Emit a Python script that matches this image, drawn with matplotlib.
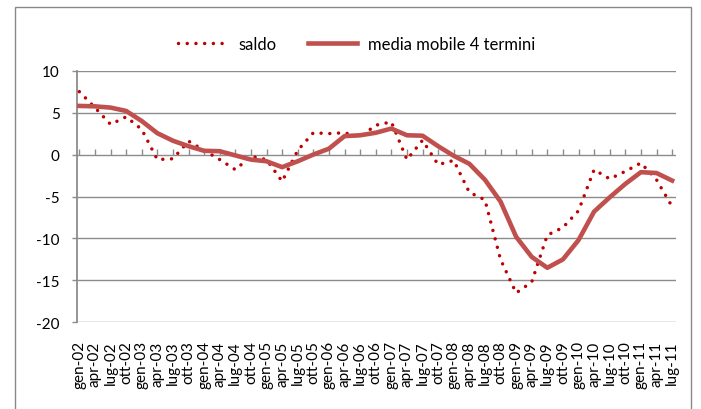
import numpy as np
import matplotlib
matplotlib.use("Agg")
import matplotlib.pyplot as plt
from matplotlib.patches import Rectangle

plt.rcParams['font.family'] = ['Lato', 'DejaVu Sans']
plt.rcParams['axes.unicode_minus'] = False

# trimestri gen-02 ... lug-11
periodi = ["gen-02", "apr-02", "lug-02", "ott-02",
           "gen-03", "apr-03", "lug-03", "ott-03",
           "gen-04", "apr-04", "lug-04", "ott-04",
           "gen-05", "apr-05", "lug-05", "ott-05",
           "gen-06", "apr-06", "lug-06", "ott-06",
           "gen-07", "apr-07", "lug-07", "ott-07",
           "gen-08", "apr-08", "lug-08", "ott-08",
           "gen-09", "apr-09", "lug-09", "ott-09",
           "gen-10", "apr-10", "lug-10", "ott-10",
           "gen-11", "apr-11", "lug-11"]

saldo = [7.5, 5.6, 3.6, 4.5, 3.0, -0.6, -0.5, 1.6,
         0.5, -0.6, -1.8, -0.2, -0.6, -3.2, 0.5, 2.6,
         2.5, 2.6, 2.1, 3.5, 3.9, -0.6, 1.7, -1.2,
         -0.7, -4.5, -5.4, -12.5, -16.5, -15.2, -9.6, -8.7,
         -6.7, -1.8, -2.9, -2.0, -1.0, -3.0, -6.2]

media_mobile = [5.8, 5.75, 5.6, 5.2, 4.0, 2.55, 1.65, 1.0,
                0.45, 0.4, -0.1, -0.6, -0.8, -1.5, -0.8, 0.0,
                0.7, 2.2, 2.3, 2.6, 3.1, 2.3, 2.25, 1.0,
                -0.15, -1.1, -3.0, -5.6, -9.8, -12.2, -13.5, -12.5,
                -10.2, -6.8, -5.1, -3.5, -2.1, -2.2, -3.1]

y_ticks = [-20, -15, -10, -5, 0, 5, 10]

grigio = '#8c8c8c'
W, H = 701, 410
fig = plt.figure(figsize=(W / 100, H / 100), dpi=100)
ax = fig.add_axes([77 / W, 1 - 323.3 / H, (676 - 77) / W, (323.3 - 71.7) / H])

x = np.arange(len(periodi))

l1, = ax.plot(x, saldo, color='#C00000', linewidth=2.5,
              dashes=(0.01, 2.5), dash_capstyle='round', label='saldo', zorder=3)
l2, = ax.plot(x, media_mobile, color='#C0504D', linewidth=3.3,
              solid_joinstyle='round', label='media mobile 4 termini', zorder=4)

ax.set_xlim(-0.15, len(periodi) - 1 + 0.25)
ax.set_ylim(-20, 10)
ax.set_yticks(y_ticks)
ax.yaxis.grid(True, color=grigio, linewidth=1.0)
ax.set_axisbelow(True)

ax.set_xticks(x)
ax.set_xticklabels(periodi, rotation=90, fontsize=11)
ax.tick_params(axis='x', length=0, pad=13)
ax.tick_params(axis='y', length=3.6, width=1.0, color=grigio, pad=9, labelsize=11)

for s in ['top', 'right', 'bottom']:
    ax.spines[s].set_visible(False)
ax.spines['left'].set_color(grigio)
ax.spines['left'].set_linewidth(1.3)

# asse orizzontale sullo zero con tacche
sec = ax.secondary_xaxis(20 / 30)
sec.set_xticks(x)
sec.set_xticklabels([])
sec.tick_params(length=4, width=1.0, color=grigio, direction='out')
sec.spines['bottom'].set_color(grigio)
sec.spines['bottom'].set_linewidth(1.3)
sec.spines['top'].set_visible(False)

fig.legend(handles=[l1, l2], loc='center', bbox_to_anchor=(357 / W, 1 - 45 / H),
           ncol=2, frameon=False, fontsize=12, handlelength=2.9,
           handletextpad=0.7, columnspacing=1.9)

fig.patches.append(Rectangle((15 / W, -0.1), (691 - 15) / W, 1.1 - 7.6 / H,
                             transform=fig.transFigure, fill=False,
                             edgecolor='#888888', linewidth=1.0))

fig.savefig("out.png", dpi=100)
